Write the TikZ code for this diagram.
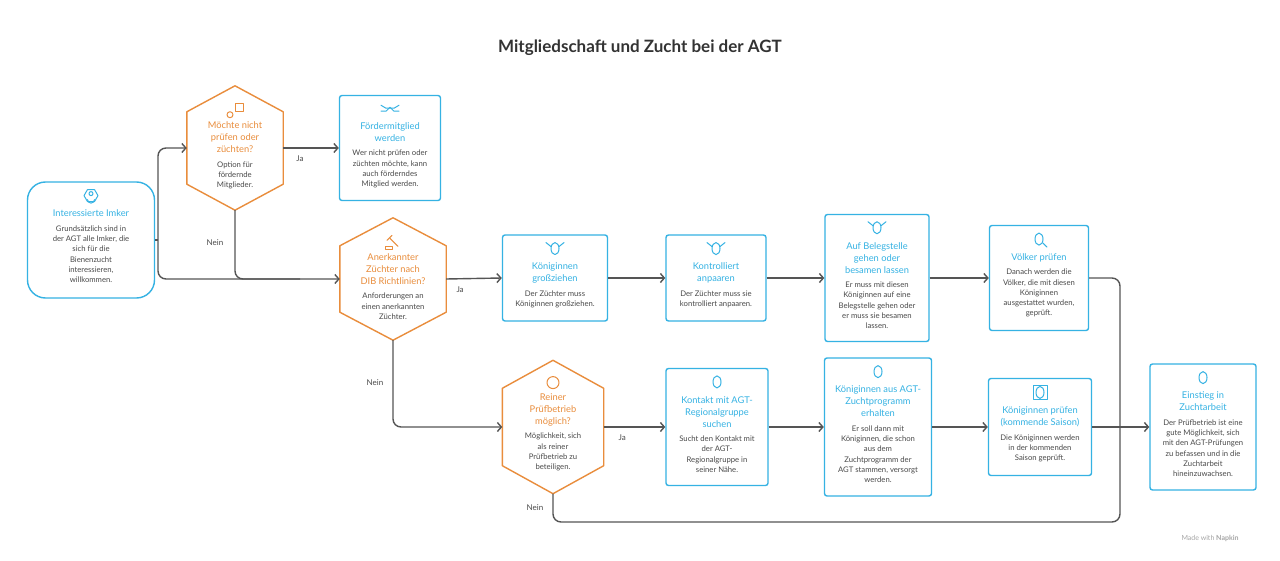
\documentclass[tikz,border=0pt]{standalone}
\usepackage{fontspec}
\setmainfont{Lato}
\usetikzlibrary{arrows.meta,calc,positioning}
\definecolor{agtblue}{HTML}{35B2E3}
\definecolor{agtorange}{HTML}{E98D3C}
\definecolor{agttext}{HTML}{4A4A4A}
\definecolor{agtline}{HTML}{555555}
\newcommand{\agtblk}[3]{\parbox{120pt}{\centering\vspace*{17pt}\fontsize{9.3}{12}\selectfont\color{#1}#2\par\vspace{4pt}\fontsize{7.7}{10.3}\selectfont\color{agttext}#3\par}}
\tikzset{
  stepbox/.style={draw=agtblue, line width=1.4pt, rounded corners=2.5pt, fill=white, inner sep=0pt},
  hexbox/.style={inner sep=0pt},
  hexline/.style={draw=agtorange, line width=1.4pt, fill=white, line join=round},
  link/.style={draw=agtline, line width=1.4pt, rounded corners=8pt, -{Straight Barb[length=4pt,width=9pt,line width=1.4pt]}},
  joint/.style={draw=agtline, line width=1.4pt, rounded corners=8pt},
  lbl/.style={font=\fontsize{8}{10}\selectfont, text=agttext},
  icon/.style={line width=1pt, line cap=round, line join=round}
}
% hexagon around a named node: name, corner depth
\newcommand{\hexat}[2]{%
  \path[hexline] (#1.north) -- ($(#1.north east)+(0,-#2)$) -- ($(#1.south east)+(0,#2)$)
    -- (#1.south) -- ($(#1.south west)+(0,#2)$) -- ($(#1.north west)+(0,-#2)$) -- cycle;}
\begin{document}
\begin{tikzpicture}[x=1pt,y=-1pt]
  \useasboundingbox[fill=white] (0,0) rectangle (1280,561);

  % Title
  \node[font=\bfseries\fontsize{17}{20}\selectfont, text=black!80] (title) at (640,48) {Mitgliedschaft und Zucht bei der AGT};

  % Hexagon frames first
  \path (235,148) node[minimum width=96pt, minimum height=124pt] (h1) {};
  \path (393,279) node[minimum width=106pt, minimum height=122pt] (h2) {};
  \path (553,427) node[minimum width=101pt, minimum height=133pt] (h3) {};
  \hexat{h1}{26pt}
  \hexat{h2}{28pt}
  \hexat{h3}{28pt}

  % Start
  \node[stepbox, rounded corners=18pt, minimum width=127pt, minimum height=116pt] (imker) at (91,240) {};
  \node (imkert) at (91,238) {\agtblk{agtblue}{Interessierte Imker}{Grundsätzlich sind in\\der AGT alle Imker, die\\sich für die\\Bienenzucht\\interessieren,\\willkommen.}};

  % Decisions
  \node[hexbox] (h1t) at (235,147) {\agtblk{agtorange}{Möchte nicht\\prüfen oder\\züchten?}{Option für\\fördernde\\Mitglieder.}};
  \node[hexbox] (h2t) at (393,278) {\agtblk{agtorange}{Anerkannter\\Züchter nach\\DIB Richtlinien?}{Anforderungen an\\einen anerkannten\\Züchter.}};
  \node[hexbox] (h3t) at (553,424) {\agtblk{agtorange}{Reiner\\Prüfbetrieb\\möglich?}{Möglichkeit, sich\\als reiner\\Prüfbetrieb zu\\beteiligen.}};

  % Steps
  \node[stepbox, minimum width=101pt, minimum height=105pt] (foerder) at (390,148) {};
  \node (foerdert) at (390,147) {\agtblk{agtblue}{Fördermitglied\\werden}{Wer nicht prüfen oder\\züchten möchte, kann\\auch förderndes\\Mitglied werden.}};
  \node[stepbox, minimum width=105pt, minimum height=86pt] (gross) at (555,278) {};
  \node (grosst) at (555,277) {\agtblk{agtblue}{Königinnen\\großziehen}{Der Züchter muss\\Königinnen großziehen.}};
  \node[stepbox, minimum width=100pt, minimum height=86pt] (anpaar) at (716,278) {};
  \node (anpaart) at (716,277) {\agtblk{agtblue}{Kontrolliert\\anpaaren}{Der Züchter muss sie\\kontrolliert anpaaren.}};
  \node[stepbox, minimum width=104pt, minimum height=127pt] (beleg) at (877,278) {};
  \node (belegt) at (877,277) {\agtblk{agtblue}{Auf Belegstelle\\gehen oder\\besamen lassen}{Er muss mit diesen\\Königinnen auf eine\\Belegstelle gehen oder\\er muss sie besamen\\lassen.}};
  \node[stepbox, minimum width=99pt, minimum height=105pt] (voelker) at (1039,278) {};
  \node (voelkert) at (1039,277) {\agtblk{agtblue}{Völker prüfen}{Danach werden die\\Völker, die mit diesen\\Königinnen\\ausgestattet wurden,\\geprüft.}};
  \node[stepbox, minimum width=102pt, minimum height=117pt] (kontakt) at (717,427) {};
  \node (kontaktt) at (717,426) {\agtblk{agtblue}{Kontakt mit AGT-\\Regionalgruppe\\suchen}{Sucht den Kontakt mit\\der AGT-\\Regionalgruppe in\\seiner Nähe.}};
  \node[stepbox, minimum width=107pt, minimum height=138pt] (erhalt) at (878,427) {};
  \node (erhaltt) at (878,426) {\agtblk{agtblue}{Königinnen aus AGT-\\Zuchtprogramm\\erhalten}{Er soll dann mit\\Königinnen, die schon\\aus dem\\Zuchtprogramm der\\AGT stammen, versorgt\\werden.}};
  \node[stepbox, minimum width=103pt, minimum height=97pt] (saison) at (1040,427) {};
  \node (saisont) at (1040,426) {\agtblk{agtblue}{Königinnen prüfen\\(kommende Saison)}{Die Königinnen werden\\in der kommenden\\Saison geprüft.}};
  \node[stepbox, minimum width=106pt, minimum height=126pt] (einstieg) at (1203,427) {};
  \node (einstiegt) at (1203,426) {\agtblk{agtblue}{Einstieg in\\Zuchtarbeit}{Der Prüfbetrieb ist eine\\gute Möglichkeit, sich\\mit den AGT-Prüfungen\\zu befassen und in die\\Zuchtarbeit\\hineinzuwachsen.}};

  % Icons
  \begin{scope}[icon, draw=agtblue]
    \draw ($(imkert.north)+(-7,6)$) -- ++(3.5,-6) -- ++(7,0) -- ++(3.5,6) -- ++(-3.5,6) -- ++(-7,0) -- cycle;
    \draw ($(imkert.north)+(0,4)$) circle (2);
    \draw ($(imkert.north)+(-3.5,10)$) arc (180:0:3.5);
    \draw ($(foerdert.north)+(-9,3)$) -- ++(5,3) -- ++(8,0) -- ++(5,-3);
    \draw ($(foerdert.north)+(-9,9)$) -- ++(5,0) -- ++(4,-4) -- ++(4,4) -- ++(5,0);
    \foreach \n in {grosst,anpaart,belegt,voelkert,kontaktt,erhaltt,saisont,einstiegt}
      \draw ($(\n.north)+(0,6)$) ellipse (4 and 6);
    \foreach \n in {grosst,anpaart,belegt}{
      \draw ($(\n.north)+(-4,4)$) -- ++(-5,-4);
      \draw ($(\n.north)+(4,4)$) -- ++(5,-4);}
    \draw ($(voelkert.north)+(4,10)$) -- ++(4,4);
    \draw ($(saisont.north)+(-7,-1)$) rectangle ++(14,14);
  \end{scope}
  \begin{scope}[icon, draw=agtorange]
    \draw ($(h1t.north)+(0,7)$) rectangle ++(8,-8);
    \draw ($(h1t.north)+(-5,10)$) circle (3);
    \draw ($(h2t.north)+(-8,13)$) rectangle ++(7,-3);
    \draw ($(h2t.north)+(-3,2)$) -- ++(8,8);
    \draw ($(h2t.north)+(-1,-1)$) -- ++(-5,5);
    \draw ($(h3t.north)+(0,6)$) circle (6);
  \end{scope}

  % Connectors
  \draw[joint] (imker.east) -- (158,240);
  \draw[link] (158,240) |- (h1.west);
  \draw[link] (158,240) |- (h2.west);
  \draw[link] (h1.east) -- (foerder.west) node[lbl, pos=0.3, below=4pt] {Ja};
  \draw[joint] (h1.south) |- (300,279);
  \node[lbl] (nein1) at (215,243) {Nein};
  \draw[link] (h2.east) -- (gross.west) node[lbl, pos=0.25, below=4pt] {Ja};
  \draw[link] (gross) -- (anpaar);
  \draw[link] (anpaar) -- (beleg);
  \draw[link] (beleg) -- (voelker);
  \coordinate (merge) at (1120,427);
  \draw[joint] (voelker.east) -| (merge);
  \draw[link] (h2.south) |- (h3.west);
  \node[lbl] (nein2) at (375,383) {Nein};
  \draw[link] (h3.east) -- (kontakt.west) node[lbl, pos=0.3, below=4pt] {Ja};
  \draw[link] (kontakt) -- (erhalt);
  \draw[link] (erhalt) -- (saison);
  \draw[joint] (saison.east) -- (merge);
  \draw[joint] (h3.south) |- (1120,522) -- (merge);
  \node[lbl] (nein3) at (535,508) {Nein};
  \draw[link] (merge) -- (einstieg.west);

  % Footer
  \node[font=\fontsize{7}{8}\selectfont, text=gray!70] (napkin) at (1210,538) {Made with \textbf{Napkin}};
\end{tikzpicture}
\end{document}
